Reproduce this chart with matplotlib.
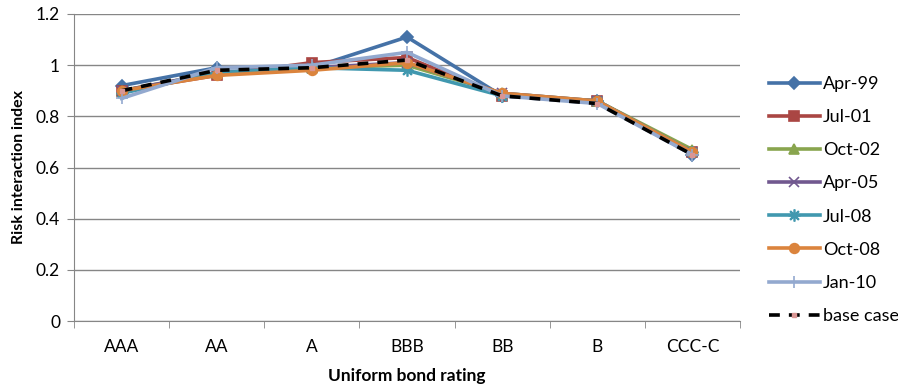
import numpy as np
import matplotlib
matplotlib.use('Agg')
import matplotlib.pyplot as plt

plt.rcParams['font.family'] = ['Lato', 'DejaVu Sans']

ratings = ['AAA', 'AA', 'A', 'BBB', 'BB', 'B', 'CCC-C']
apr99 = [0.92, 0.99, 0.99, 1.11, 0.88, 0.86, 0.65]
jul01 = [0.90, 0.96, 1.01, 1.03, 0.88, 0.86, 0.66]
oct02 = [0.90, 0.97, 0.99, 1.00, 0.89, 0.86, 0.67]
apr05 = [0.90, 0.97, 0.99, 1.01, 0.89, 0.86, 0.66]
jul08 = [0.89, 0.97, 0.99, 0.98, 0.88, 0.86, 0.66]
oct08 = [0.90, 0.96, 0.98, 1.01, 0.89, 0.86, 0.66]
jan10 = [0.87, 0.99, 1.00, 1.05, 0.88, 0.85, 0.65]
base_case = [0.90, 0.98, 0.99, 1.02, 0.88, 0.85, 0.65]

fig = plt.figure(figsize=(8.98, 3.88), dpi=100)
ax = fig.add_axes([74/898, 1-321/388, 666/898, 307/388])

x = np.arange(len(ratings))
series = [
    ('Apr-99', apr99, '#4572A7', 'D', 6),
    ('Jul-01', jul01, '#AA4643', 's', 7),
    ('Oct-02', oct02, '#89A54E', '^', 7),
    ('Apr-05', apr05, '#71588F', 'x', 7),
    ('Jul-08', jul08, '#4198AF', '$\u2733$', 8),
    ('Oct-08', oct08, '#DB843D', 'o', 7),
    ('Jan-10', jan10, '#93A9CF', '+', 9),
]
for name, vals, col, mk, ms in series:
    ax.plot(x, vals, color=col, lw=2.6, marker=mk, ms=ms, mew=1.2,
            mfc=col, mec=col, label=name)
ax.plot(x, base_case, color='black', lw=2.6, ls=(0, (3, 2.5)),
        marker='s', ms=3, mfc='#D99694', mec='#D99694', label='base case')

ax.set_xlim(-0.5, len(ratings) - 0.5)
ax.set_ylim(0, 1.2)
ax.set_yticks(np.arange(0, 1.21, 0.2))
ax.set_yticklabels(['0', '0.2', '0.4', '0.6', '0.8', '1', '1.2'])
ax.set_xticks(x)
ax.set_xticklabels(ratings)
ax.set_xticks(np.arange(-0.5, len(ratings), 1), minor=True)
ax.tick_params(axis='x', which='major', length=0, pad=13, labelsize=12.5)
ax.tick_params(axis='x', which='minor', length=5, color='#868686')
ax.tick_params(axis='y', length=5, color='#868686', labelsize=12.5, pad=5)
ax.grid(axis='y', color='#868686', lw=1)
ax.set_axisbelow(True)
for s in ['top', 'right']:
    ax.spines[s].set_visible(False)
for s in ['left', 'bottom']:
    ax.spines[s].set_color('#868686')

ax.set_xlabel('Uniform bond rating', fontweight='bold', fontsize=12.5, labelpad=9)
ax.set_ylabel('Risk interaction index', fontweight='bold', fontsize=11.5, labelpad=7)

fig.legend(loc='center left', bbox_to_anchor=(769/898, 1-200/388), frameon=False,
           fontsize=13, labelspacing=0.95, handlelength=2.8, handletextpad=0.17,
           borderpad=0, borderaxespad=0)

plt.savefig('out.png', dpi=100)
